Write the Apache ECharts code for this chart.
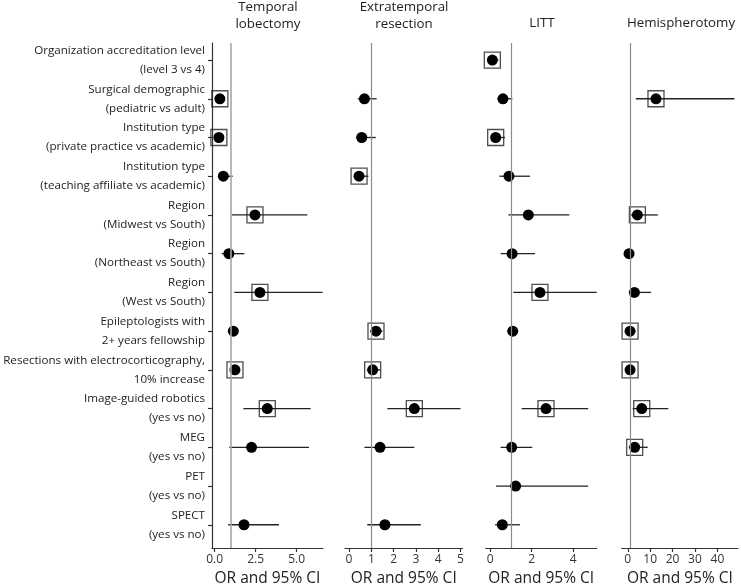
<!DOCTYPE html>
<html>
<head>
<meta charset="utf-8">
<script src="https://cdn.jsdelivr.net/npm/echarts@6/dist/echarts.min.js"></script>
<style>
html,body{margin:0;padding:0;background:#fff;}
#c{width:741px;height:586px;}
</style>
</head>
<body>
<div id="c"></div>
<script>
// ---------- data ----------
const categories = [
  'Organization accreditation level\n(level 3 vs 4)',
  'Surgical demographic\n(pediatric vs adult)',
  'Institution type\n(private practice vs academic)',
  'Institution type\n(teaching affiliate vs academic)',
  'Region\n(Midwest vs South)',
  'Region\n(Northeast vs South)',
  'Region\n(West vs South)',
  'Epileptologists with\n2+ years fellowship',
  'Resections with electrocorticography,\n10% increase',
  'Image-guided robotics\n(yes vs no)',
  'MEG\n(yes vs no)',
  'PET\n(yes vs no)',
  'SPECT\n(yes vs no)'
];
const panelTitles = ['Temporal\nlobectomy', 'Extratemporal\nresection', 'LITT', 'Hemispherotomy'];
const axisTitle = 'OR and 95% CI';

// Temporal lobectomy
const tlOR  = [null, 0.32, 0.26, 0.53, 2.46, 0.87, 2.76, 1.14, 1.24, 3.21, 2.25, null, 1.79];
const tlLo  = [null, 0.12, 0.08, 0.30, 1.04, 0.43, 1.20, 0.90, 1.00, 1.75, 0.89, null, 0.83];
const tlHi  = [null, 0.60, 0.50, 1.10, 5.65, 1.81, 6.58, 1.40, 1.50, 5.85, 5.75, null, 3.92];
const tlSig = [0, 1, 1, 0, 1, 0, 1, 0, 1, 1, 0, 0, 0];
const tlTicks = [0, 2.5, 5];
const tlTickLabels = ['0.0', '2.5', '5.0'];

// Extratemporal resection
const etOR  = [null, 0.69, 0.57, 0.45, null, null, null, 1.21, 1.06, 2.93, 1.39, null, 1.61];
const etLo  = [null, 0.39, 0.31, 0.25, null, null, null, 0.95, 0.80, 1.72, 0.69, null, 0.82];
const etHi  = [null, 1.24, 1.20, 0.87, null, null, null, 1.50, 1.40, 5.00, 2.93, null, 3.22];
const etSig = [0, 0, 0, 1, 0, 0, 0, 1, 1, 1, 0, 0, 0];
const etTicks = [0, 1, 2, 3, 4, 5];
const etTickLabels = ['0', '1', '2', '3', '4', '5'];

// LITT
const liOR  = [0.11, 0.62, 0.27, 0.91, 1.84, 1.06, 2.40, 1.09, null, 2.69, 1.04, 1.23, 0.59];
const liLo  = [0.02, 0.35, 0.10, 0.45, 0.88, 0.51, 1.12, 0.85, null, 1.52, 0.51, 0.29, 0.24];
const liHi  = [0.40, 1.07, 0.72, 1.92, 3.81, 2.16, 5.13, 1.35, null, 4.72, 2.03, 4.72, 1.44];
const liSig = [1, 0, 1, 0, 0, 0, 1, 0, 0, 1, 0, 0, 0];
const liTicks = [0, 2, 4];
const liTickLabels = ['0', '2', '4'];

// Hemispherotomy
const heOR  = [null, 12.6, null, null, 4.3, 0.58, 2.96, 1.03, 1.03, 6.25, 3.1, null, null];
const heLo  = [null, 3.6, null, null, 1.0, 0.1, 0.5, 0.1, 0.1, 2.2, 0.5, null, null];
const heHi  = [null, 47.6, null, null, 13.4, 1.8, 10.4, 3.3, 3.3, 18.1, 8.9, null, null];
const heSig = [0, 1, 0, 0, 1, 0, 0, 1, 1, 1, 1, 0, 0];
const heTicks = [0, 10, 20, 30, 40];
const heTickLabels = ['0', '10', '20', '30', '40'];

const refOR = 1;

// ---------- layout ----------
const FONT = '"Open Sans", "Noto Sans", sans-serif';
const panels = [
  {or: tlOR, lo: tlLo, hi: tlHi, sig: tlSig, ticks: tlTicks, labels: tlTickLabels, left: 212, width: 110.9, min: -0.16, max: 6.6, refColor: '#a6a6a6', refW: 1.6},
  {or: etOR, lo: etLo, hi: etHi, sig: etSig, ticks: etTicks, labels: etTickLabels, left: 345, width: 117.5, min: -0.18, max: 5.09, refColor: '#8c8c8c', refW: 1.2},
  {or: liOR, lo: liLo, hi: liHi, sig: liSig, ticks: liTicks, labels: liTickLabels, left: 485.7, width: 111, min: -0.21, max: 5.13, refColor: '#8c8c8c', refW: 1.2},
  {or: heOR, lo: heLo, hi: heHi, sig: heSig, ticks: heTicks, labels: heTickLabels, left: 621.7, width: 116.3, min: -2.7, max: 49.2, refColor: '#8c8c8c', refW: 1.2}
];
const titleX = [268, 404, 542, 681];

const rowIdx = categories.map((_, i) => i);
const grid = [], xAxis = [], yAxis = [], series = [], graphic = [];

panels.forEach((p, k) => {
  grid.push({left: p.left, top: 43, width: p.width, height: 505, containLabel: false, outerBoundsMode: 'none'});
  xAxis.push({
    type: 'value', gridIndex: k, min: p.min, max: p.max,
    name: axisTitle, nameLocation: 'middle', nameGap: 22,
    nameTextStyle: {fontFamily: FONT, fontSize: 15.5, color: '#222'},
    axisLine: {show: true, onZero: false, lineStyle: {color: '#333', width: 1.2}},
    axisTick: {show: true, length: 4, customValues: p.ticks, lineStyle: {color: '#333', width: 1.2}},
    axisLabel: {show: true, customValues: p.ticks, margin: 6, fontFamily: FONT, fontSize: 12, color: '#333',
      formatter: (v) => { const i = p.ticks.indexOf(v); return i >= 0 ? p.labels[i] : ''; }},
    splitLine: {show: false}
  });
  yAxis.push({
    type: 'value', gridIndex: k, inverse: true, min: -0.44, max: 12.6,
    show: k === 0,
    axisLine: {show: true, onZero: false, lineStyle: {color: '#333', width: 1.2}},
    axisTick: {show: true, length: 4, customValues: rowIdx, lineStyle: {color: '#333', width: 1.2}},
    axisLabel: {show: true, customValues: rowIdx, margin: 7, fontFamily: FONT, fontSize: 11.6, lineHeight: 19, color: '#222', align: 'right',
      formatter: (v) => categories[v] !== undefined ? categories[v] : ''},
    splitLine: {show: false}
  });

  const ciData = [], ptData = [], boxData = [];
  p.or.forEach((v, i) => {
    if (v === null) return;
    ciData.push([p.lo[i], p.hi[i], i]);
    ptData.push([v, i]);
    if (p.sig[i]) boxData.push([v, i]);
  });

  series.push({
    type: 'custom', xAxisIndex: k, yAxisIndex: k, silent: true, z: 2,
    encode: {x: [0, 1], y: 2},
    data: ciData,
    renderItem: function (params, api) {
      const a = api.coord([api.value(0), api.value(2)]);
      const b = api.coord([api.value(1), api.value(2)]);
      return {type: 'line', shape: {x1: a[0], y1: a[1], x2: b[0], y2: b[1]}, style: {stroke: '#222', lineWidth: 1.3}};
    },
    markLine: {
      silent: true, symbol: 'none', label: {show: false}, animation: false,
      lineStyle: {color: p.refColor, width: p.refW, type: 'solid'},
      data: [{xAxis: refOR}]
    }
  });
  series.push({
    type: 'scatter', xAxisIndex: k, yAxisIndex: k, silent: true, z: 3,
    symbol: 'rect', symbolSize: 16,
    itemStyle: {color: 'rgba(255,255,255,0)', borderColor: '#222', borderWidth: 1.3},
    data: boxData
  });
  series.push({
    type: 'scatter', xAxisIndex: k, yAxisIndex: k, silent: true, z: 4,
    symbol: 'circle', symbolSize: 11,
    itemStyle: {color: '#000', opacity: 1},
    data: ptData
  });

  const two = panelTitles[k].indexOf('\n') >= 0;
  graphic.push({
    type: 'text', x: titleX[k], y: two ? 15.5 : 23.2,
    style: {text: panelTitles[k], fill: '#222', font: '13.3px ' + FONT, lineHeight: 16.6,
      textAlign: 'center', textVerticalAlign: 'middle'}
  });
});

const chart = echarts.init(document.getElementById('c'), null, {renderer: 'canvas'});
chart.setOption({
  animation: false,
  backgroundColor: '#fff',
  textStyle: {fontFamily: FONT},
  grid, xAxis, yAxis, series, graphic
});
</script>
</body>
</html>
